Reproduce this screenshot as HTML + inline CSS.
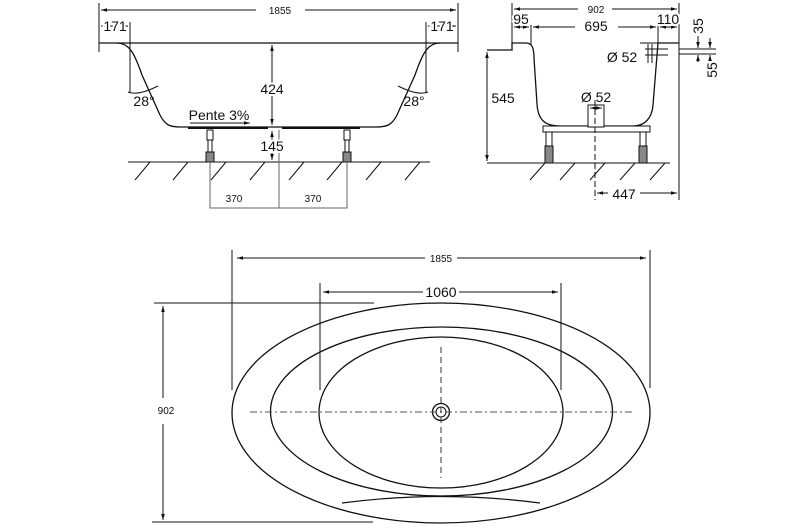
<!DOCTYPE html>
<html><head><style>body{margin:0;background:#fff}svg{display:block}text{font-family:"Liberation Sans",sans-serif;fill:#111}.w{paint-order:stroke;stroke:#fff;stroke-width:4px}</style></head><body>
<svg width="810" height="528" viewBox="0 0 810 528" xmlns="http://www.w3.org/2000/svg">
<defs><marker id="a" viewBox="0 0 10 10" refX="10" refY="5" markerWidth="6" markerHeight="6" orient="auto-start-reverse"><path d="M0,2L10,5L0,8z" fill="#111"/></marker></defs>
<g stroke="#111" stroke-width="1" fill="none">
<!-- left elevation -->
<line x1="99" y1="3" x2="99" y2="52"/><line x1="458" y1="3" x2="458" y2="52"/>
<line x1="101" y1="10" x2="256" y2="10" marker-start="url(#a)"/><line x1="305" y1="10" x2="456" y2="10" marker-end="url(#a)"/>
<line x1="101" y1="26" x2="128" y2="26" marker-start="url(#a)" marker-end="url(#a)"/>
<line x1="428" y1="26" x2="456" y2="26" marker-start="url(#a)" marker-end="url(#a)"/>
<line x1="130" y1="22" x2="130" y2="93"/><line x1="426" y1="22" x2="426" y2="93"/>
<path d="M99,43H458" stroke-width="1.3"/>
<path d="M117,43C130,43 135,55 142,75L160,115C165,125 170,127 180,127H376C387,127 392,125 397,115L415,75C422,55 427,43 440,43" stroke-width="1.3"/>
<path d="M188,128H268M282,128H360" stroke-width="2"/>
<path d="M128,92Q138,96 158,86M428,92Q418,96 398,86"/>
<line x1="272" y1="45" x2="272" y2="125" marker-start="url(#a)" marker-end="url(#a)"/>
<line x1="272" y1="131" x2="272" y2="160" marker-start="url(#a)" marker-end="url(#a)"/>
<line x1="190" y1="123" x2="250" y2="123" marker-end="url(#a)"/>
<line x1="128" y1="162" x2="430" y2="162"/>
<path d="M135,180L150,162M173,180L188,162M211,180L226,162M250,180L265,162M289,180L304,162M327,180L342,162M366,180L381,162M405,180L420,162"/>
<rect x="207" y="130" width="6" height="10" fill="#fff"/><rect x="208" y="140" width="4" height="12"/><rect x="206" y="152" width="8" height="10" fill="#888"/>
<rect x="344" y="130" width="6" height="10" fill="#fff"/><rect x="345" y="140" width="4" height="12"/><rect x="343" y="152" width="8" height="10" fill="#888"/>
<path d="M210,162V208H347V162M279,130V208" stroke="#666"/>
<!-- right elevation -->
<line x1="512" y1="3" x2="512" y2="45"/><line x1="679" y1="3" x2="679" y2="200"/>
<line x1="514" y1="9" x2="578" y2="9" marker-start="url(#a)"/><line x1="612" y1="9" x2="677" y2="9" marker-end="url(#a)"/>
<line x1="514" y1="27" x2="529" y2="27" marker-start="url(#a)" marker-end="url(#a)"/>
<line x1="533" y1="27" x2="575" y2="27" marker-start="url(#a)"/><line x1="618" y1="27" x2="656" y2="27" marker-end="url(#a)"/>
<line x1="660" y1="27" x2="677" y2="27" marker-start="url(#a)" marker-end="url(#a)"/>
<line x1="531" y1="25" x2="531" y2="45"/><line x1="658" y1="25" x2="658" y2="45"/>
<path d="M487,50H512V43H526C532,43 534,48 534,58L537,104C538,120 545,126 560,126H633C645,126 652,118 653,105L658,43H679" stroke-width="1.3"/>
<path d="M679,49H716M679,54H716M640,43H679"/>
<line x1="698" y1="36" x2="698" y2="48" marker-end="url(#a)"/><line x1="698" y1="55" x2="698" y2="62" marker-start="url(#a)"/>
<line x1="710" y1="38" x2="710" y2="48" marker-end="url(#a)"/><line x1="710" y1="55" x2="710" y2="60" marker-start="url(#a)"/>
<path d="M645,49H668M645,55H668M648,44V63M652,44V63"/>
<line x1="487" y1="52" x2="487" y2="161" marker-start="url(#a)" marker-end="url(#a)"/>
<line x1="487" y1="163" x2="670" y2="163"/>
<path d="M530,180L545,163M560,180L575,163M590,180L605,163M620,180L635,163M650,180L665,163"/>
<rect x="543" y="126" width="107" height="6" fill="#fff"/>
<rect x="546" y="132" width="6" height="14"/><rect x="545" y="146" width="8" height="17" fill="#888"/>
<rect x="640" y="132" width="6" height="14"/><rect x="639" y="146" width="8" height="17" fill="#888"/>
<rect x="588" y="105" width="16" height="22" fill="#fff"/>
<line x1="590" y1="108" x2="602" y2="108" marker-start="url(#a)" marker-end="url(#a)"/>
<line x1="595" y1="100" x2="595" y2="200" stroke-dasharray="6,3"/>
<line x1="597" y1="193" x2="608" y2="193" marker-start="url(#a)"/><line x1="640" y1="193" x2="677" y2="193" marker-end="url(#a)"/>
<!-- plan -->
<ellipse cx="441" cy="413" rx="209" ry="110" stroke-width="1.3"/>
<ellipse cx="441.5" cy="411.5" rx="171" ry="84.5" stroke-width="1.3"/>
<ellipse cx="441" cy="412.5" rx="122" ry="75.5" stroke-width="1.3"/>
<path d="M342,503Q441,490 540,503" stroke-width="1.2"/>
<circle cx="441" cy="412" r="8.5" stroke-width="1.3"/><circle cx="441" cy="412" r="5"/>
<line x1="250" y1="412" x2="632" y2="412" stroke="#555" stroke-dasharray="7,3,2,3"/>
<line x1="441" y1="347" x2="441" y2="478" stroke="#333" stroke-dasharray="6,4"/>
<line x1="232" y1="250" x2="232" y2="390"/><line x1="650" y1="250" x2="650" y2="388"/>
<line x1="237" y1="258" x2="425" y2="258" marker-start="url(#a)"/><line x1="457" y1="258" x2="646" y2="258" marker-end="url(#a)"/>
<line x1="320" y1="283" x2="320" y2="390"/><line x1="561" y1="283" x2="561" y2="390"/>
<line x1="323" y1="292" x2="423" y2="292" marker-start="url(#a)"/><line x1="459" y1="292" x2="558" y2="292" marker-end="url(#a)"/>
<line x1="154" y1="303" x2="374" y2="303"/><line x1="152" y1="522" x2="373" y2="522"/>
<line x1="163" y1="306" x2="163" y2="398" marker-start="url(#a)"/><line x1="163" y1="424" x2="163" y2="520" marker-end="url(#a)"/>
</g>
<g font-size="10" text-anchor="middle">
<text x="280" y="14">1855</text><text x="596" y="13">902</text>
<text x="441" y="262">1855</text><text x="166" y="414">902</text>
<text x="234" y="202">370</text><text x="313" y="202">370</text>
</g>
<g font-size="14" text-anchor="middle">
<text class="w" x="115" y="31">171</text><text class="w" x="442" y="31">171</text>
<text class="w" x="272" y="94">424</text>
<text class="w" x="272" y="151">145</text>
<text x="144" y="106">28°</text><text x="414" y="106">28°</text>
<text x="219" y="120">Pente 3%</text>
<text class="w" x="521" y="24">95</text><text class="w" x="596" y="31">695</text><text class="w" x="668" y="24">110</text>
<text class="w" x="503" y="103">545</text><text x="596" y="102">Ø 52</text><text class="w" x="622" y="62">Ø 52</text>
<text class="w" x="624" y="199">447</text>
<text class="w" x="441" y="297">1060</text>
<text transform="translate(703,26) rotate(-90)">35</text>
<text transform="translate(717,70) rotate(-90)">55</text>
</g>
</svg>
</body></html>
